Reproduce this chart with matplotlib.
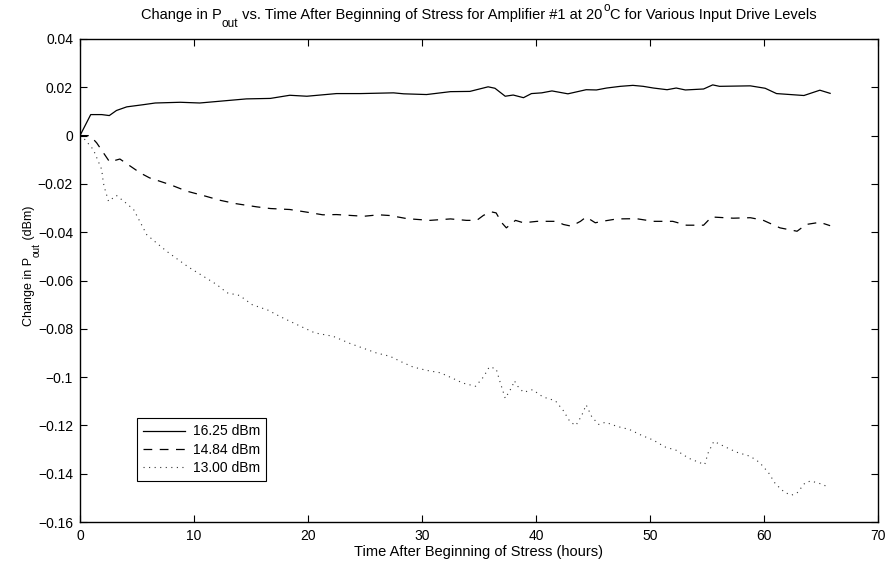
"""
Change in Pout vs. time after beginning of stress, amplifier #1 at 20 C.
Stile MATLAB: assi con box, tick verso l'interno, linee nere.
"""

import matplotlib
matplotlib.use("Agg")
import matplotlib.pyplot as plt  # noqa: E402
from matplotlib.ticker import FuncFormatter  # noqa: E402

plt.rcParams["font.family"] = ["Liberation Sans", "DejaVu Sans"]

# --- dati -------------------------------------------------------------------
hours_1625 = [0, 0.94, 1.9, 2.57, 3.2, 4.1, 5.55, 6.6, 8.8, 10.5, 12.9, 14.6,
              16.7, 18.4, 19.9, 22.5, 24.6, 27.5, 28.4, 30.4, 32.5, 34.2, 35.8,
              36.4, 37.3, 38.0, 38.9, 39.6, 40.5, 41.4, 42.8, 44.4, 45.3, 46.2,
              47.4, 48.5, 49.4, 50.3, 51.5, 52.3, 53.1, 54.7, 55.5, 56.1, 58.8,
              60.1, 61.1, 63.5, 64.9, 65.8]
dpout_1625 = [0, 0.0087, 0.0087, 0.0083, 0.0104, 0.0119, 0.0128, 0.0135,
              0.0138, 0.0135, 0.0145, 0.0152, 0.0154, 0.0167, 0.0163, 0.0174,
              0.0174, 0.0177, 0.0173, 0.0170, 0.0182, 0.0183, 0.0202, 0.0196,
              0.0163, 0.0168, 0.0157, 0.0174, 0.0177, 0.0185, 0.0173, 0.0190,
              0.0189, 0.0197, 0.0204, 0.0208, 0.0204, 0.0197, 0.0190, 0.0197,
              0.0189, 0.0193, 0.0210, 0.0204, 0.0206, 0.0196, 0.0174, 0.0166,
              0.0188, 0.0175]

hours_1484 = [0, 0.88, 1.46, 2.6, 3.5, 5.3, 6.1, 7.9, 9.36, 10.8, 12.3, 13.7,
              15.5, 16.7, 18.4, 19.9, 21.3, 22.5, 24.9, 26.2, 27.2, 28.7, 30.7,
              32.5, 33.9, 34.8, 35.4, 36.1, 36.5, 37.0, 37.4, 38.2, 38.9, 40.1,
              41.8, 42.4, 43.1, 43.9, 44.4, 45.2, 45.8, 47.1, 48.8, 50.3, 52.0,
              53.2, 54.7, 55.4, 57.3, 58.8, 59.9, 61.4, 62.9, 63.7, 64.9, 65.8]
dpout_1484 = [0, 0, -0.0030, -0.0109, -0.0097, -0.0155, -0.0175, -0.0203,
              -0.0230, -0.0248, -0.0268, -0.0282, -0.0295, -0.0302, -0.0306,
              -0.0317, -0.0328, -0.0327, -0.0334, -0.0328, -0.0331, -0.0344,
              -0.0351, -0.0345, -0.0351, -0.0351, -0.0330, -0.0316, -0.0320,
              -0.0361, -0.0382, -0.0351, -0.0361, -0.0355, -0.0355, -0.0368,
              -0.0375, -0.0355, -0.0337, -0.0361, -0.0355, -0.0345, -0.0344,
              -0.0355, -0.0355, -0.0371, -0.0371, -0.0337, -0.0342, -0.0340,
              -0.0350, -0.0382, -0.0396, -0.0368, -0.0359, -0.0373]

hours_1300 = [0, 0.44, 1.17, 1.9, 2.05, 2.2, 2.5, 3.2, 3.95, 4.7, 5.3, 5.85,
              6.7, 7.6, 8.5, 9.5, 10.8, 12.0, 12.9, 14.0, 15.1, 16.5, 17.5,
              19.0, 20.6, 22.2, 23.7, 25.0, 26.0, 27.2, 28.2, 29.2, 30.4, 31.6,
              32.6, 33.6, 34.7, 35.4, 35.9, 36.5, 36.8, 37.3, 37.9, 38.1, 38.4,
              38.9, 39.7, 40.6, 41.7, 42.4, 43.0, 43.5, 44.0, 44.4, 44.9, 45.5,
              46.1, 47.1, 48.2, 49.3, 50.3, 51.3, 52.3, 53.4, 54.4, 54.8, 55.1,
              55.6, 56.6, 57.6, 58.8, 59.6, 60.4, 61.0, 61.8, 62.4, 62.9, 63.6,
              64.1, 65.2, 65.7]
dpout_1300 = [0, -0.0017, -0.0058, -0.0140, -0.0196, -0.0224, -0.0272, -0.0248,
              -0.0276, -0.0306, -0.0360, -0.0410, -0.0444, -0.0479, -0.0510,
              -0.0544, -0.0582, -0.0617, -0.0651, -0.0662, -0.0700, -0.0723,
              -0.0748, -0.0782, -0.0817, -0.0831, -0.0861, -0.0883, -0.0900,
              -0.0914, -0.0937, -0.0958, -0.0972, -0.0982, -0.1003, -0.1025,
              -0.1038, -0.0999, -0.0958, -0.0965, -0.1013, -0.1088, -0.1040,
              -0.1015, -0.1038, -0.1063, -0.1052, -0.1082, -0.1098, -0.1139,
              -0.1186, -0.1200, -0.1160, -0.1115, -0.1165, -0.1196, -0.1187,
              -0.1204, -0.1217, -0.1242, -0.1261, -0.1289, -0.1303, -0.1336,
              -0.1355, -0.1362, -0.1314, -0.1266, -0.1289, -0.1311, -0.1328,
              -0.1353, -0.1396, -0.1442, -0.1477, -0.1489, -0.1480, -0.1438,
              -0.1430, -0.1445, -0.1460]

labels = ["16.25 dBm", "14.84 dBm", "13.00 dBm"]


def matlab_fmt(v, _pos):
    s = "%g" % round(v, 6)
    return s.replace("-", "\u2212")


W, H = 886, 563
fig = plt.figure(figsize=(W / 100, H / 100), dpi=100)
ax = fig.add_axes([80 / W, 1 - 522 / H, 798 / W, 483 / H])

ax.plot(hours_1625, dpout_1625, color="black", linewidth=0.9, label=labels[0])
ax.plot(hours_1484, dpout_1484, color="black", linewidth=0.9,
        linestyle=(0, (7, 6)), label=labels[1])
ax.plot(hours_1300, dpout_1300, color="#333333", linewidth=0.8,
        linestyle=(0, (1, 4)), label=labels[2])

ax.set_xlim(0, 70)
ax.set_ylim(-0.16, 0.04)
ax.set_xticks(range(0, 71, 10))
ax.set_yticks([0.04 - 0.02 * i for i in range(11)])
ax.yaxis.set_major_formatter(FuncFormatter(matlab_fmt))
ax.tick_params(direction="in", top=True, right=True, length=5, width=0.8,
               labelsize=10, pad=5)
for sp in ax.spines.values():
    sp.set_linewidth(1.0)

ax.set_xlabel("Time After Beginning of Stress (hours)", fontsize=10.5, va="top")
ax.xaxis.set_label_coords(0.5, -0.047)

# titolo con pedici/apici alla MATLAB (pezzi di testo concatenati)
big, small = 10.5, 8.5
t1 = fig.text(0.1, 1 - 19 / H, "Change in P", fontsize=big, va="baseline")
t2 = ax.annotate("out", xy=(1, 0), xycoords=t1, xytext=(0, -5.5),
                 textcoords="offset points", fontsize=small, va="bottom")
t3 = ax.annotate(" vs. Time After Beginning of Stress for Amplifier #1 at 20",
                 xy=(1, 0), xycoords=(t2, t1), fontsize=big, va="bottom")
t4 = ax.annotate("o", xy=(1, 0), xycoords=(t3, t1), xytext=(0.5, 5.5),
                 textcoords="offset points", fontsize=small, va="bottom")
t5 = ax.annotate("C for Various Input Drive Levels", xy=(1, 0),
                 xycoords=(t4, t1), fontsize=big, va="bottom")
for t in (t2, t3, t4, t5):
    t.set_annotation_clip(False)

# etichetta y ruotata, stesso schema
ysz, ysub = 9, 7.2
y1 = fig.text(35 / W, 1 - 326 / H, "Change in P", fontsize=ysz, rotation=90,
              ha="right", va="bottom")
y2 = ax.annotate("out", xy=(1, 1), xycoords=y1, xytext=(4.5, 0),
                 textcoords="offset points", fontsize=ysub, rotation=90,
                 ha="right", va="bottom", annotation_clip=False)
y3 = ax.annotate(" (dBm)", xy=(1, 1), xycoords=(y1, y2), fontsize=ysz,
                 rotation=90, ha="right", va="bottom", annotation_clip=False)

leg = ax.legend(loc="lower left", bbox_to_anchor=(0.071, 0.085), borderaxespad=0,
                fancybox=False, edgecolor="black", framealpha=1, fontsize=10,
                handlelength=3.0, handletextpad=0.6, borderpad=0.45,
                labelspacing=0.3)
leg.get_frame().set_linewidth(0.8)

# centra il titolo sopra gli assi
fig.canvas.draw()
r = fig.canvas.get_renderer()
x0 = t1.get_window_extent(r).x0
x1 = t5.get_window_extent(r).x1
cx = (80 + 878) / 2
t1.set_x((t1.get_position()[0] * W + cx - (x0 + x1) / 2) / W)

fig.savefig("out.png", dpi=100)
plt.close(fig)
